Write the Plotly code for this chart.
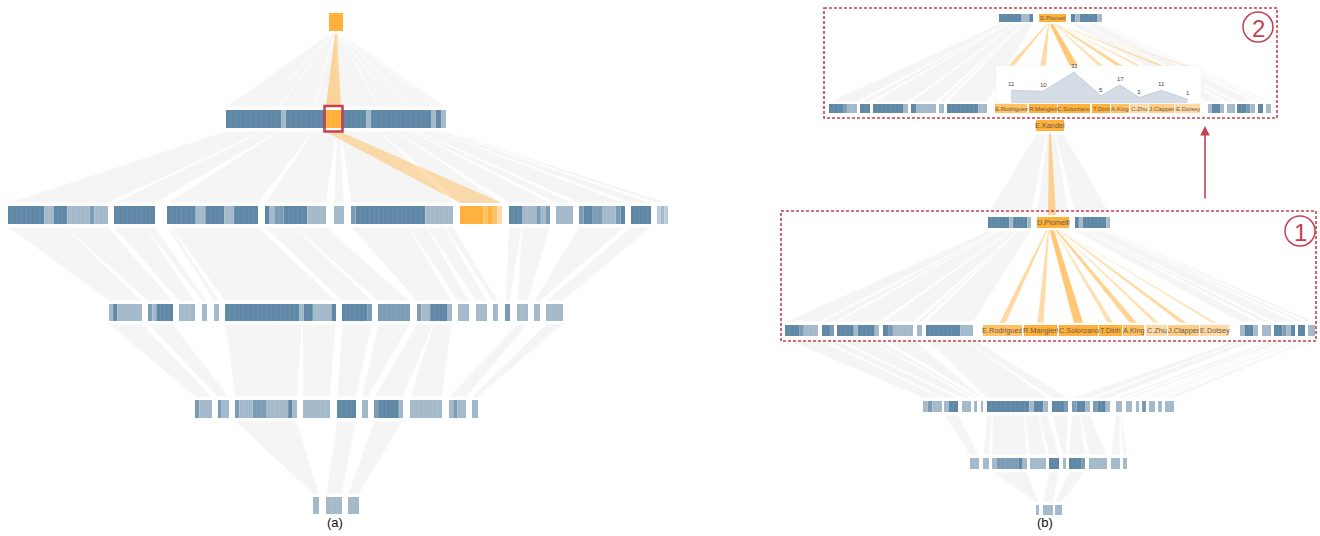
import plotly.graph_objects as go

# ---------------- data ----------------
# cell tone codes: D dark, M medium, L light, P pale, O/o/q/p orange intensities
tree_a_cells = [
    ["O"],
    ["DDDDDDDDDDDLDDDDDDDDOOODDDDDLDDDDDDDDDDDDLDL"],
    ["DDDDDDDDLLDDDLLLLLMLLL", "DDDDDDDDD", "DDDDDDLLDDDDLLDDDDD", "DLMMDDDDDLLLL", "LL",
     "MDDDDDDDDDDDDDDDLLLLLL", "OOOOOoOop", "DDDLLLMLM", "LLLL", "MDDMMLLLMD", "DDDDD", "PLP"],
    ["LDLLLLLL", "MLDDDD", "LLL", "L", "L", "DDDDDDDDDDDDDDDDLDDLLLLD", "DDDDDDM", "MMMMMMM",
     "MLLDDDDL", "LLL", "LLL", "L", "M", "LLL", "L", "LLLL"],
    ["MLLL", "MLL", "MLLLMMMLLLLLDL", "LLLLLL", "DDDD", "L", "MDDDDDL", "LLLLLLL", "LMLL", "L"],
    ["L", "LLL", "LL"],
]
tree_a_parents = [None, [0], [0] * 12,
                  [0, 0, 1, 1, 2, 2, 3, 3, 5, 5, 5, 5, 7, 7, 9, 10],
                  [0, 1, 5, 5, 6, 7, 8, 8, 13, 15],
                  [2, 4, 6]]

author_names = ["E.Rodriguez", "R.Mangieri", "C.Solorzano", "T.Dinh", "A.King", "C.Zhu", "J.Clapper", "E.Dotsey"]
coauthor_counts = [11, 10, 31, 5, 17, 3, 11, 1]
author_tones = ["o", "O", "O", "O", "o", "p", "q", "p"]

tree_b_cells = [
    ["O"],
    ["DDDDDDLDDDDL", "O", "DLDDDDDDL"],
    ["DDDMLLL", "DDM", "DDDDLDDDDL", "DMLLLL", "L", "DDDDDDDDLLL"]
    + author_tones
    + ["LDDL", "LL", "DDMLD", "D", "L"],
    ["LMLL", "LDD", "LL", "L", "L", "DDDDDDDDDLDDL", "DDDM", "MDDL", "MDDL", "L", "L", "L", "M", "L", "L", "LL"],
    ["LL", "L", "LMMMMMDL", "LLLL", "DD", "L", "DDDM", "LLLL", "LL", "L"],
    ["L", "LL", "L"],
]
tree_b_parents = [None, [0, 0, 0],
                  [0] * 6 + [None] * 8 + [2] * 5,
                  [0, 1, 2, 2, 3, 5, 5, 14, 14, 16, 16, 16, 17, 17, 18, 18],
                  [1, 5, 5, 5, 5, 6, 7, 7, 9, 9],
                  [2, 4, 6]]
tree_b_labels = {(0, 0): "E.Kandel", (1, 1): "D.Piomelli"}

inset_top_cells = ["DDDDDDLLD", "O", "DLDDDDL"]
inset_bottom_cells = (["DDDMLL", "DD", "DDDDDDDL", "DLLLL", "L", "DDDDDDDLL"]
                      + author_tones + ["LDDL", "LL", "DDML", "D", "L"])
inset_parents = [0] * 6 + [None] * 8 + [2] * 5

# ---------------- layout (positions, px) ----------------
A_Y = [(13, 31), (110, 128), (206, 224), (304, 321), (400, 418), (497, 514)]
A_SPANS = [
    [(329, 343)],
    [(226, 446)],
    [(8, 108), (114, 155), (167, 258), (265, 326), (334, 344), (351, 453), (460, 502), (509, 550),
     (556, 573), (579, 625), (631, 651), (657, 668)],
    [(109, 142), (148, 173), (179, 195), (202, 207), (214, 219), (225, 336), (342, 372), (378, 410),
     (417, 452), (458, 469), (476, 487), (493, 498), (505, 510), (517, 528), (534, 540), (546, 563)],
    [(195, 212), (218, 229), (235, 297), (303, 330), (337, 356), (362, 368), (374, 403), (410, 442),
     (449, 466), (472, 478)],
    [(313, 319), (326, 342), (348, 359)],
]
B_Y = [(120, 131), (217, 228), (325, 336), (401, 412), (458, 469), (505, 515)]
B_SPANS = [
    [(1036, 1064)],
    [(988, 1031), (1037, 1069), (1075, 1110)],
    [(785, 818), (822, 834), (837, 879), (883, 913), (917, 922), (926, 973),
     (983, 1022), (1024, 1057), (1059, 1098), (1099, 1122), (1123, 1144), (1146, 1167), (1168, 1199), (1200, 1229),
     (1240, 1258), (1262, 1271), (1274, 1295), (1298, 1305), (1308, 1315)],
    [(923, 942), (944, 958), (962, 971), (974, 977), (981, 983), (987, 1048), (1052, 1068), (1072, 1090),
     (1093, 1110), (1116, 1122), (1126, 1132), (1136, 1139), (1142, 1146), (1149, 1155), (1158, 1162), (1165, 1174)],
    [(970, 979), (983, 989), (992, 1027), (1030, 1046), (1049, 1059), (1063, 1066), (1069, 1085), (1089, 1107),
     (1111, 1120), (1123, 1127)],
    [(1036, 1039), (1043, 1053), (1055, 1062)],
]
INSET_TOP_Y = (14, 22)
INSET_BOT_Y = (104, 113)
INSET_TOP = [(999, 1033), (1039, 1066), (1071, 1102)]
INSET_BOT = [(829, 857), (860, 870), (873, 908), (911, 936), (939, 944), (947, 987),
             (995, 1027), (1029, 1057), (1058, 1090), (1092, 1110), (1111, 1129), (1130, 1148), (1149, 1174),
             (1175, 1200),
             (1208, 1224), (1227, 1235), (1237, 1255), (1258, 1263), (1266, 1271)]
PANEL = (996, 1201, 66, 103)

TONE = {"D": "#5f88a7", "M": "#7c9cb6", "L": "#a4bacb", "P": "#bccbd8",
        "O": "#ffb13b", "o": "#ffc163", "q": "#ffcd85", "p": "#ffd9a6"}
RED = "#c4424f"
LINK_FILL = "rgba(226,226,226,0.36)"
ORANGE_LINK = "rgba(255,178,64,{a})"
FONT = "Liberation Sans, Arial, sans-serif"

shapes = []
annotations = []


def partition(x0, x1, weights):
    tot = float(sum(weights))
    out, cur = [], x0
    for w in weights:
        nxt = cur + (x1 - x0) * w / tot
        out.append((cur, nxt))
        cur = nxt
    return out


def trap(top, bot, ytop, ybot, fill, lw=0.7):
    path = f"M{top[0]},{ytop} L{top[1]},{ytop} L{bot[1]},{ybot} L{bot[0]},{ybot} Z"
    shapes.append(dict(type="path", path=path, xref="x", yref="y", fillcolor=fill,
                       line=dict(color="white", width=lw), layer="below"))


def fan(parent_span, child_spans, ytop, ybot, weights=None, fill=LINK_FILL):
    if weights is None:
        weights = [b - a for a, b in child_spans]
    tops = partition(parent_span[0], parent_span[1], weights)
    for t, c in zip(tops, child_spans):
        trap(t, c, ytop, ybot, fill)


def level_links(parent_spans, child_spans, parents, ytop, ybot):
    for p in range(len(parent_spans)):
        kids = [i for i, q in enumerate(parents) if q == p]
        if kids:
            fan(parent_spans[p], [child_spans[i] for i in kids], ytop, ybot)


def group(span, y, pattern):
    x0, x1 = span
    n = len(pattern)
    w = (x1 - x0) / n
    i = 0
    while i < n:
        j = i
        while j < n and pattern[j] == pattern[i]:
            j += 1
        shapes.append(dict(type="rect", xref="x", yref="y", x0=x0 + i * w, x1=x0 + j * w,
                           y0=y[0], y1=y[1], fillcolor=TONE[pattern[i]], line=dict(width=0), layer="below"))
        i = j
    for k in range(1, n):
        xx = x0 + k * w
        shapes.append(dict(type="line", xref="x", yref="y", x0=xx, x1=xx, y0=y[0], y1=y[1],
                           line=dict(color="rgba(255,255,255,0.13)", width=0.6), layer="below"))


def label(x, y, text, size=7, color="#6a5a48"):
    annotations.append(dict(x=x, y=y, xref="x", yref="y", text=text, showarrow=False,
                            font=dict(family=FONT, size=size, color=color)))


# ================= tree (a) =================
l2w = [b - a for a, b in A_SPANS[2]]
fan(A_SPANS[0][0], partition(A_SPANS[1][0][0], A_SPANS[1][0][1], l2w), A_Y[0][1] + 3, A_Y[1][0] - 3, weights=l2w)
for k in range(2, 6):
    level_links(A_SPANS[k - 1], A_SPANS[k], tree_a_parents[k], A_Y[k - 1][1] + 3, A_Y[k][0] - 3)

pat1 = tree_a_cells[1][0]
cw = (A_SPANS[1][0][1] - A_SPANS[1][0][0]) / len(pat1)
oi0 = pat1.index("O")
oi1 = pat1.rindex("O") + 1
hl = (A_SPANS[1][0][0] + oi0 * cw, A_SPANS[1][0][0] + oi1 * cw)
cx0 = (A_SPANS[0][0][0] + A_SPANS[0][0][1]) / 2
trap((cx0 - 1, cx0 + 1), hl, A_Y[0][1] + 3, A_Y[1][0] - 4, ORANGE_LINK.format(a=0.5), lw=0)
trap(hl, A_SPANS[2][6], A_Y[1][1] + 4, A_Y[2][0] - 3, ORANGE_LINK.format(a=0.42), lw=0)

for k, spans in enumerate(A_SPANS):
    for s, pat in zip(spans, tree_a_cells[k]):
        group(s, A_Y[k], pat)
shapes.append(dict(type="rect", xref="x", yref="y", x0=hl[0] - 1.5, x1=hl[1] + 1.5,
                   y0=A_Y[1][0] - 4, y1=A_Y[1][1] + 3.5, line=dict(color=RED, width=2.5)))

# ================= tree (b) =================
b1w = [b - a for a, b in B_SPANS[1]]
fan(B_SPANS[0][0], B_SPANS[1], B_Y[0][1] + 3, B_Y[1][0] - 3, weights=b1w)
for k in range(2, 6):
    level_links(B_SPANS[k - 1], B_SPANS[k], tree_b_parents[k], B_Y[k - 1][1] + 3, B_Y[k][0] - 3)
kc = (B_SPANS[0][0][0] + B_SPANS[0][0][1]) / 2
trap((kc - 1, kc + 1), (kc - 2, kc + 6), B_Y[0][1] + 3, B_Y[1][0] - 2, ORANGE_LINK.format(a=0.55), lw=0)

named_b = B_SPANS[2][6:14]
pc = (B_SPANS[1][1][0] + B_SPANS[1][1][1]) / 2
tops = partition(pc - 7, pc + 7, coauthor_counts)
for t, s, v in zip(tops, named_b, coauthor_counts):
    c = (s[0] + s[1]) / 2
    hw = (5 + 0.15 * v) / 2
    trap(t, (c - hw, c + hw), B_Y[1][1] + 2, B_Y[2][0] - 2, ORANGE_LINK.format(a=0.36 + 0.012 * v), lw=0.5)

for k, spans in enumerate(B_SPANS):
    for s, pat in zip(spans, tree_b_cells[k]):
        group(s, B_Y[k], pat)
for (k, i), txt in tree_b_labels.items():
    s = B_SPANS[k][i]
    label((s[0] + s[1]) / 2, sum(B_Y[k]) / 2, txt, size=7.3)
for s, nm in zip(named_b, author_names):
    label((s[0] + s[1]) / 2, sum(B_Y[2]) / 2, nm, size=7.3)

# ================= inset (box 2) =================
level_links(INSET_TOP, INSET_BOT, inset_parents, INSET_TOP_Y[1] + 2, INSET_BOT_Y[0] - 2)
named_i = INSET_BOT[6:14]
ic = (INSET_TOP[1][0] + INSET_TOP[1][1]) / 2
tops = partition(ic - 6, ic + 6, coauthor_counts)
for t, s, v in zip(tops, named_i, coauthor_counts):
    c = (s[0] + s[1]) / 2
    hw = (5 + 0.12 * v) / 2
    trap(t, (c - hw, c + hw), INSET_TOP_Y[1] + 2, PANEL[2], ORANGE_LINK.format(a=0.36 + 0.012 * v), lw=0.5)
shapes.append(dict(type="rect", xref="x", yref="y", x0=PANEL[0], x1=PANEL[1], y0=PANEL[2], y1=PANEL[3],
                   fillcolor="#f4f5f7", line=dict(color="#eceef1", width=1), layer="below"))
for s, pat in zip(INSET_TOP, inset_top_cells):
    group(s, INSET_TOP_Y, pat)
for s, pat in zip(INSET_BOT, inset_bottom_cells):
    group(s, INSET_BOT_Y, pat)
label((INSET_TOP[1][0] + INSET_TOP[1][1]) / 2, sum(INSET_TOP_Y) / 2, "D.Piomeli", size=6)
for s, nm in zip(named_i, author_names):
    label((s[0] + s[1]) / 2, sum(INSET_BOT_Y) / 2, nm, size=6)

# ================= annotations / decorations =================
for (x0, y0, x1, y1) in [(824, 8, 1277, 118), (781, 211, 1316, 341)]:
    shapes.append(dict(type="rect", xref="x", yref="y", x0=x0, x1=x1, y0=y0, y1=y1,
                       line=dict(color=RED, width=1.6, dash="3px,2px")))
for (cx, cy, txt) in [(1258, 27, "2"), (1300, 231, "1")]:
    shapes.append(dict(type="circle", xref="x", yref="y", x0=cx - 15, x1=cx + 15, y0=cy - 15, y1=cy + 15,
                       line=dict(color=RED, width=1.5)))
    annotations.append(dict(x=cx, y=cy + 1, xref="x", yref="y", text=txt, showarrow=False,
                            font=dict(family=FONT, size=24, color=RED)))
annotations.append(dict(x=1205, y=126, ax=1205, ay=200, xref="x", yref="y", axref="x", ayref="y",
                        text="", showarrow=True, arrowhead=2, arrowsize=1.2, arrowwidth=1.6, arrowcolor=RED))
label(335, 522, "(a)", size=13, color="#111")
label(1045, 522, "(b)", size=13, color="#111")

# area chart in inset panel
xs = [(s[0] + s[1]) / 2 for s in named_i]
fig = go.Figure()
fig.add_trace(go.Scatter(x=[0], y=[0], mode="markers", marker=dict(opacity=0), hoverinfo="skip", showlegend=False))
fig.add_trace(go.Scatter(x=xs, y=[-3] * len(xs), xaxis="x2", yaxis="y2", mode="lines",
                         line=dict(width=0), hoverinfo="skip", showlegend=False))
fig.add_trace(go.Scatter(x=xs, y=coauthor_counts, xaxis="x2", yaxis="y2", mode="lines", fill="tonexty",
                         fillcolor="rgba(205,215,225,0.85)", line=dict(color="#c3ced9", width=1),
                         hoverinfo="skip", showlegend=False))
for x, v in zip(xs, coauthor_counts):
    annotations.append(dict(x=x, y=v, xref="x2", yref="y2", text=str(v), showarrow=False, yshift=6,
                            font=dict(family=FONT, size=6, color="#444")))

fig.update_layout(
    width=1320, height=536, margin=dict(l=0, r=0, t=0, b=0),
    paper_bgcolor="white", plot_bgcolor="white",
    xaxis=dict(range=[0, 1320], visible=False, domain=[0, 1]),
    yaxis=dict(range=[536, 0], visible=False, domain=[0, 1]),
    xaxis2=dict(range=[PANEL[0], PANEL[1]], visible=False, anchor="y2",
                domain=[PANEL[0] / 1320, PANEL[1] / 1320]),
    yaxis2=dict(range=[-3, 38], visible=False, anchor="x2",
                domain=[1 - PANEL[3] / 536, 1 - PANEL[2] / 536]),
    shapes=shapes, annotations=annotations, showlegend=False,
)
fig.write_html("out.html", config={"displayModeBar": False},
               post_script="document.body.style.margin='0';document.body.style.overflow='hidden';")
